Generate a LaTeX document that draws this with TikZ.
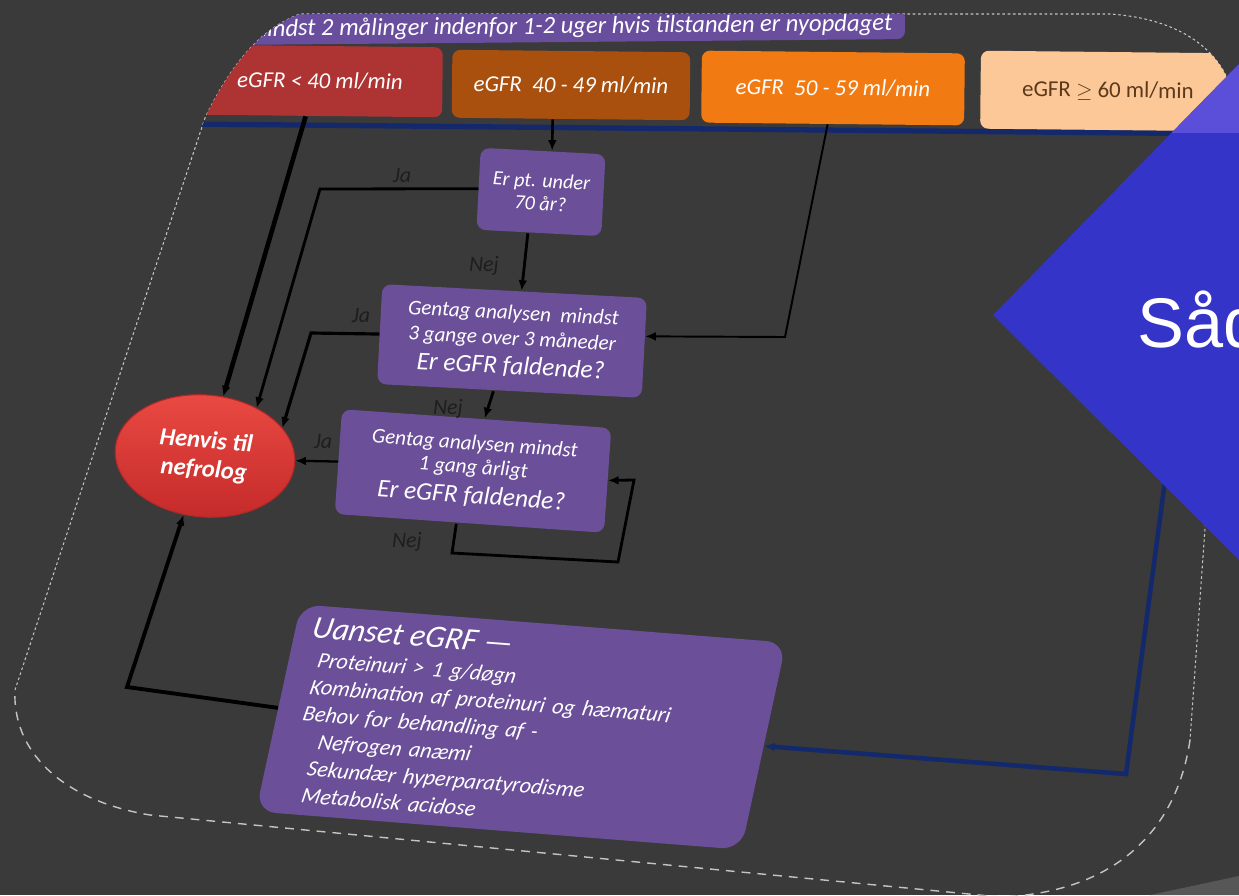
\documentclass[tikz,border=0pt]{standalone}
\usepackage{fontspec}
\setmainfont{Carlito}
\newfontfamily\arialf{Liberation Sans}
\usetikzlibrary{shapes.geometric,arrows.meta}
\definecolor{bgc}{HTML}{3A3A3A}
\definecolor{outc}{HTML}{C4C4C4}
\definecolor{barp}{HTML}{6A4E9E}
\definecolor{boxp}{HTML}{6B4F98}
\definecolor{red40}{HTML}{AE3434}
\definecolor{brownc}{HTML}{A9500E}
\definecolor{orangec}{HTML}{F27A12}
\definecolor{peachc}{HTML}{FDC898}
\definecolor{peachtxt}{HTML}{5B3A1C}
\definecolor{navyc}{HTML}{13296B}
\definecolor{elltop}{HTML}{EA4A42}
\definecolor{ellbot}{HTML}{C52B2B}
\definecolor{elledge}{HTML}{B02828}
\definecolor{tric}{HTML}{3434C9}
\definecolor{tritop}{HTML}{5B4FD9}
\definecolor{lblc}{HTML}{1E1E1E}
\definecolor{wedgec}{HTML}{575757}
\newcommand\fsz[2]{\fontsize{#1}{#2}\selectfont}
\newcommand\slidepath{(205,118) .. controls (232,62) and (262,28) .. (300,14) -- (1110,14) .. controls (1172,18) and (1226,45) .. (1235,105) -- (1190,740) .. controls (1176,835) and (1110,893) .. (1000,897) -- (150,815) .. controls (60,800) and (12,750) .. (15,690) -- cycle}
\begin{document}
\begin{tikzpicture}[x=0.02cm,y=-0.02cm,
  egfr/.style={rounded corners=0.16cm, inner sep=0pt, font=\fsz{13}{15}\itshape, text=white},
  pbox/.style={fill=boxp, rounded corners=0.18cm, inner sep=0pt, text=white, align=center},
  lbl/.style={font=\fsz{12.5}{14}\itshape, text=lblc, inner sep=0pt},
  arr/.style={draw=black, -{Latex[length=6pt,width=5pt]}},
  outl/.style={draw=outc, line width=0.6pt, dash pattern=on 1.5pt off 1.5pt},
  outlb/.style={draw=outc, line width=0.8pt, dash pattern=on 5pt off 4pt},
]
\fill[bgc] (0,0) rectangle (1239,895);
\useasboundingbox (0,0) rectangle (1239,895);
\fill[wedgec] (1150,895) -- (1239,876) -- (1239,895) -- cycle;

% slide outline
\draw[outl] (15,690) -- (205,118) .. controls (232,62) and (262,28) .. (300,14) -- (1110,14) .. controls (1172,18) and (1226,45) .. (1235,105) -- (1190,740);
\draw[outlb] (1190,740) .. controls (1176,835) and (1110,893) .. (1000,897) -- (150,815) .. controls (60,800) and (12,750) .. (15,690);

% header rows, clipped to the slide
\begin{scope}
\clip \slidepath;
\draw[navyc, line width=3pt] (190,124) -- (1239,134);
\node[egfr, fill=barp, font=\fsz{14}{15}\itshape, minimum width=13.4cm, minimum height=0.6cm, rotate=0.5] (topbar) at (570,27) {mindst 2 målinger indenfor 1-2 uger hvis tilstanden er nyopdaget};
\node[egfr, fill=red40, minimum width=4.9cm, minimum height=1.4cm, rotate=-0.6] (r40) at (320,81) {eGFR < 40 ml/min};
\node[egfr, fill=brownc, minimum width=4.76cm, minimum height=1.36cm, rotate=-0.6] (b40) at (571,85) {eGFR\ \ 40 - 49 ml/min};
\node[egfr, fill=orangec, minimum width=5.26cm, minimum height=1.44cm, rotate=-0.6] (o50) at (833,88) {eGFR\ \ 50 - 59 ml/min};
\node[egfr, fill=peachc, text=peachtxt, font=\fsz{13}{15}, minimum width=5.1cm, minimum height=1.56cm, rotate=-0.6] (p60) at (1108,91) {eGFR $\geq$ 60 ml/min};
\end{scope}

% decision boxes
\node[pbox, rotate=-3, minimum width=2.5cm, minimum height=1.64cm, font=\fsz{11.5}{13}\itshape] (box1) at (541,192) {Er pt. under\\70 år?};
\node[pbox, rotate=-3, minimum width=5.3cm, minimum height=2cm, font=\fsz{12}{14}\itshape] (box2) at (512,341) {Gentag analysen\ \ mindst\\[0.5pt]3 gange over 3 måneder\\[2.5pt]{\fsz{14.5}{16}Er eGFR faldende?}};
\node[pbox, rotate=-4, minimum width=5.4cm, minimum height=2.1cm, font=\fsz{12}{14}\itshape] (box3) at (473,471) {Gentag analysen mindst\\[-0.5pt]1 gang årligt\\[3pt]{\fsz{14.5}{16}Er eGFR faldende?}};
\node[ellipse, top color=elltop, bottom color=ellbot, draw=elledge, line width=0.6pt, minimum width=3.6cm, minimum height=2.44cm, rotate=-5, inner sep=0pt, font=\fsz{14}{16.5}\bfseries\itshape, text=white, align=center] (henvis) at (205,456) {Henvis til\\nefrolog};
\node[pbox, rotate=-4.5, xslant=0.136, minimum width=9.74cm, minimum height=4.2cm, rounded corners=0.4cm, font=\fsz{12.6}{15.5}\itshape, text width=9.2cm, align=left] (uanset) at (521,727) {\hspace*{2pt}{\fsz{18}{18}Uanset eGRF —}\\[1pt]
\hspace*{8.8pt}Proteinuri > 1 g/døgn\\
\hspace*{7.7pt}Kombination af proteinuri og hæmaturi\\
\hspace*{7.1pt}Behov for behandling af -\\
\hspace*{19pt}Nefrogen anæmi\\
\hspace*{16.2pt}Sekundær hyperparatyrodisme\\
\hspace*{16.2pt}Metabolisk acidose};

% labels
\node[lbl] (ja1) at (402,176) {Ja};
\node[lbl] (nej1) at (484,266) {Nej};
\node[lbl] (ja2) at (361,316) {Ja};
\node[lbl] (nej2) at (448,409) {Nej};
\node[lbl] (ja3) at (323,442) {Ja};
\node[lbl] (nej3) at (407,542) {Nej};

% bend points
\coordinate (j1) at (320,189);
\coordinate (j2) at (311,333);
\coordinate (l1) at (452,553);
\coordinate (l2) at (618,562);
\coordinate (l3) at (634,480);
\coordinate (oc) at (785,337);
\coordinate (uc) at (127,687);
\coordinate (bc) at (1126,774);

% connectors
\draw[arr, line width=2.6pt] ([xshift=-0.28cm]r40.south) -- (henvis.78);
\draw[arr, line width=1.5pt] ([xshift=-0.36cm]b40.south) -- ([xshift=0.18cm]box1.north);
\draw[arr, line width=1.6pt] (box1.west) -- (j1) -- (henvis.48);
\draw[arr, line width=1.6pt] ([xshift=-0.22cm]box1.south) -- ([xshift=0.14cm]box2.north);
\draw[arr, line width=1.8pt] (box2.west) -- (j2) -- (henvis.25);
\draw[arr, line width=1.6pt] ([xshift=-0.32cm]box2.south) -- ([xshift=0.16cm]box3.north);
\draw[arr, line width=1.3pt] (box3.west) -- (henvis.2);
\draw[arr, line width=1.6pt] ([xshift=-0.26cm]box3.south) -- (l1) -- (l2) -- (l3) -- (box3.east);
\draw[arr, line width=1.1pt] ([xshift=-0.1cm]o50.south) -- (oc) -- (box2.5);
\draw[arr, line width=2.2pt] (uanset.west) -- (uc) -- (henvis.-105);
\draw[arr, draw=navyc, line width=2.6pt] ([xshift=2.08cm]p60.south) -- (bc) -- (uanset.east);

% blue title triangle
\fill[tric] (1239,64) -- (993,315) -- (1239,560) -- cycle;
\begin{scope}
\clip (1239,64) -- (993,315) -- (1239,560) -- cycle;
\fill[tritop] (900,0) rectangle (1239,133);
\end{scope}
\node[font=\arialf\fsz{40}{40}, text=white, anchor=base west, inner sep=0pt] (title) at (1137,347) {Såd};
\end{tikzpicture}
\end{document}
